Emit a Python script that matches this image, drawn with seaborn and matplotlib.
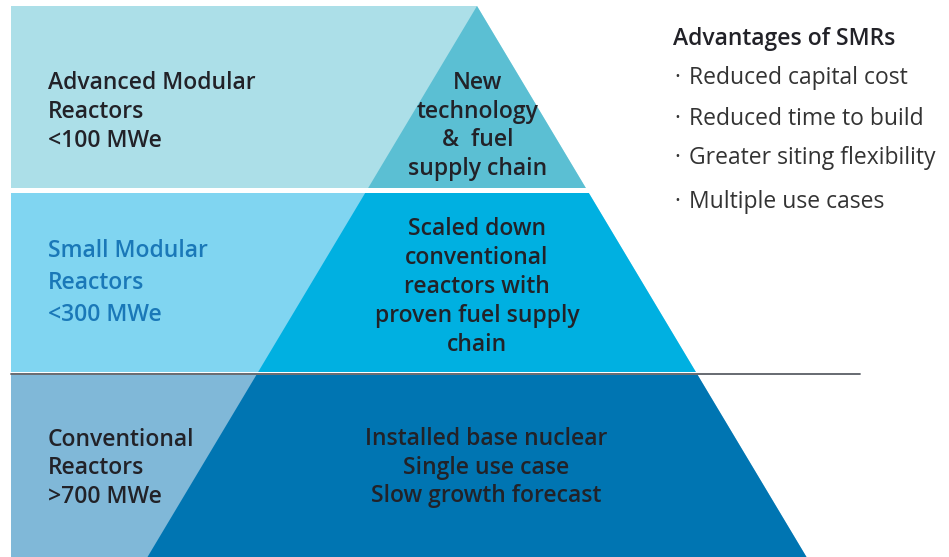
import matplotlib
matplotlib.use("Agg")
import matplotlib.pyplot as plt
import seaborn as sns

sns.set_theme(style="white")
plt.rcParams['font.family'] = ['Open Sans', 'DejaVu Sans']

# tiers of the pyramid, top to bottom
tier_names = ["Advanced Modular\nReactors\n<100 MWe",
              "Small Modular\nReactors\n<300 MWe",
              "Conventional\nReactors\n>700 MWe"]
tier_notes = ["New\ntechnology\n&  fuel\nsupply chain",
              "Scaled down\nconventional\nreactors with\nproven fuel supply\nchain",
              "Installed base nuclear\nSingle use case\nSlow growth forecast"]
light_colors = ["#acdfe8", "#80d5f1", "#80b8d8"]
dark_colors = ["#5bbfd3", "#00b0e1", "#0075b2"]
name_colors = ["#222228", "#1a78b8", "#222228"]

adv_title = "Advantages of SMRs"
adv_items = ["Reduced capital cost", "Reduced time to build",
             "Greater siting flexibility", "Multiple use cases"]

# layout (pixel space)
bands = [(6, 188), (193, 372), (375, 557)]
apex_x, apex_y, k = 477, 6, 0.598
x0 = 11
name_y = [83, 251, 440]
name_step = [29, 32, 28.5]
note_x = [478, 477, 486]
note_y = [83, 229, 439]
note_step = [28.7, 29, 28.5]

fs = 16.5


def left(y):
    return apex_x - k * (y - apex_y)


def right(y):
    return apex_x + k * (y - apex_y)


fig = plt.figure(figsize=(9.49, 5.57), dpi=100)
ax = fig.add_axes([0, 0, 1, 1])
ax.set_xlim(0, 949)
ax.set_ylim(557, 0)
ax.axis("off")

for i, (y0, y1) in enumerate(bands):
    ax.fill([x0, right(y0), right(y1), x0], [y0, y0, y1, y1],
            color=light_colors[i], lw=0)
    ax.fill([left(y0), right(y0), right(y1), left(y1)], [y0, y0, y1, y1],
            color=dark_colors[i], lw=0)

ax.plot([x0, 860], [374, 374], color="#5a5f66", lw=1.3)

for i in range(3):
    for j, line in enumerate(tier_names[i].split("\n")):
        ax.text(48, name_y[i] + j * name_step[i], line, fontsize=fs,
                fontweight="semibold", color=name_colors[i],
                ha="left", va="center")
    for j, line in enumerate(tier_notes[i].split("\n")):
        ax.text(note_x[i], note_y[i] + j * note_step[i], line, fontsize=fs,
                fontweight="semibold", color="#222228",
                ha="center", va="center")

ax.text(673, 39, adv_title, fontsize=fs, fontweight="semibold",
        color="#222228", ha="left", va="center")
item_y = [78, 119, 158, 202]
for y, item in zip(item_y, adv_items):
    ax.text(674, y, "·", fontsize=fs, color="#333333", ha="left", va="center")
    ax.text(689, y, item, fontsize=fs, color="#333333", ha="left", va="center")

fig.savefig("out.png", dpi=100)
